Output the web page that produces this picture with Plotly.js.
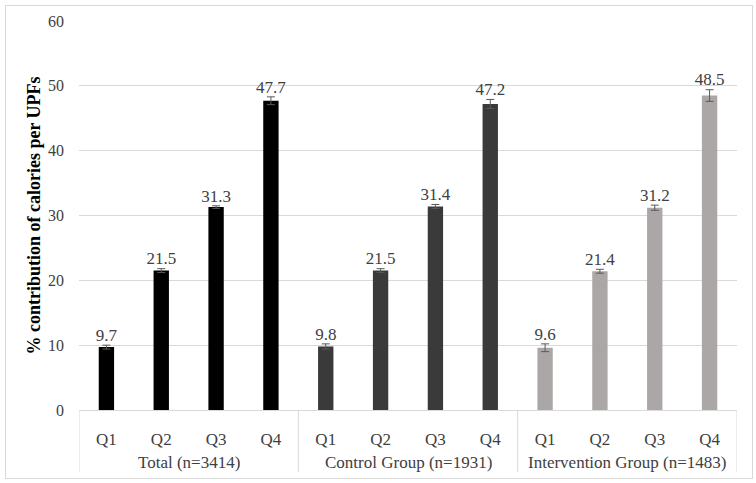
<!DOCTYPE html>
<html>
<head>
<meta charset="utf-8">
<script src="https://cdn.plot.ly/plotly-3.0.1.min.js"></script>
<style>
html,body{margin:0;padding:0;background:#fff;}
#chart{width:756px;height:483px;}
#frame{position:absolute;left:5px;top:5px;width:746px;height:472px;border:1px solid #d9d9d9;pointer-events:none;}
</style>
</head>
<body>
<div id="chart"></div>
<div id="frame"></div>
<script>
var groups = ["Total (n=3414)", "Control Group (n=1931)", "Intervention Group (n=1483)"];
var quartiles = ["Q1", "Q2", "Q3", "Q4"];
var totalValues = [9.7, 21.5, 31.3, 47.7];
var controlValues = [9.8, 21.5, 31.4, 47.2];
var interventionValues = [9.6, 21.4, 31.2, 48.5];
var totalErrors = [0.3, 0.3, 0.2, 0.6];
var controlErrors = [0.4, 0.3, 0.3, 0.7];
var interventionErrors = [0.6, 0.3, 0.4, 0.9];
var groupColors = ["#000000", "#3a3a3a", "#aba7a7"];

var seriesValues = [totalValues, controlValues, interventionValues];
var seriesErrors = [totalErrors, controlErrors, interventionErrors];

var font = "'Liberation Serif', 'Times New Roman', serif";

var xs = [], ys = [], es = [], cs = [], tops = [], labels = [], tickText = [];
var annotations = [], shapes = [];
var n = quartiles.length;
groups.forEach(function(g, gi){
  quartiles.forEach(function(q, qi){
    var idx = gi * n + qi;
    xs.push(idx);
    tickText.push(q);
    ys.push(seriesValues[gi][qi]);
    es.push(seriesErrors[gi][qi]);
    cs.push(groupColors[gi]);
    tops.push(seriesValues[gi][qi] + seriesErrors[gi][qi]);
    labels.push(seriesValues[gi][qi].toFixed(1));
  });
  annotations.push({
    text: g, xref: "x", yref: "y", x: gi * n + (n - 1) / 2, y: 0,
    yshift: -52, showarrow: false, yanchor: "middle", xanchor: "center",
    font: {family: font, size: 17, color: "#404040"}
  });
});
for (var k = 0; k <= groups.length; k++) {
  shapes.push({type: "line", xref: "x", yref: "paper", x0: k * n - 0.5, x1: k * n - 0.5,
    y0: 0, y1: -0.159, line: {color: "#d9d9d9", width: 1}});
}

var bars = {
  type: "bar",
  x: xs,
  y: ys,
  width: 0.28,
  marker: {color: cs, line: {width: 0}},
  error_y: {type: "data", array: es, visible: true, color: "#595959", thickness: 1, width: 4},
  hoverinfo: "none",
  showlegend: false
};
var texts = {
  type: "scatter",
  mode: "text",
  x: xs,
  y: tops,
  text: labels,
  textposition: "top center",
  textfont: {family: font, size: 17, color: "#404040"},
  cliponaxis: false,
  hoverinfo: "none",
  showlegend: false
};

var layout = {
  width: 756,
  height: 483,
  margin: {l: 79, r: 19, t: 21, b: 73},
  paper_bgcolor: "#ffffff",
  plot_bgcolor: "#ffffff",
  font: {family: font, size: 16, color: "#404040"},
  annotations: annotations,
  shapes: shapes,
  xaxis: {
    range: [-0.5, xs.length - 0.5],
    tickmode: "array",
    tickvals: xs,
    ticktext: tickText,
    showgrid: false,
    showline: true,
    linecolor: "#d9d9d9",
    linewidth: 1,
    ticks: "",
    ticklabelstandoff: 14,
    tickfont: {family: font, size: 17, color: "#404040"},
    zeroline: false,
    fixedrange: true
  },
  yaxis: {
    range: [0, 60],
    dtick: 10,
    showgrid: true,
    gridcolor: "#d9d9d9",
    gridwidth: 1,
    zeroline: false,
    showline: false,
    ticks: "",
    ticklabelstandoff: 14,
    tickfont: {family: font, size: 16, color: "#404040"},
    title: {text: "% contribution of calories per UPFs", font: {family: font, size: 18, color: "#000000", weight: "bold"}, standoff: 2}
  }
};

Plotly.newPlot("chart", [bars, texts], layout, {staticPlot: true, displayModeBar: false});
</script>
</body>
</html>
